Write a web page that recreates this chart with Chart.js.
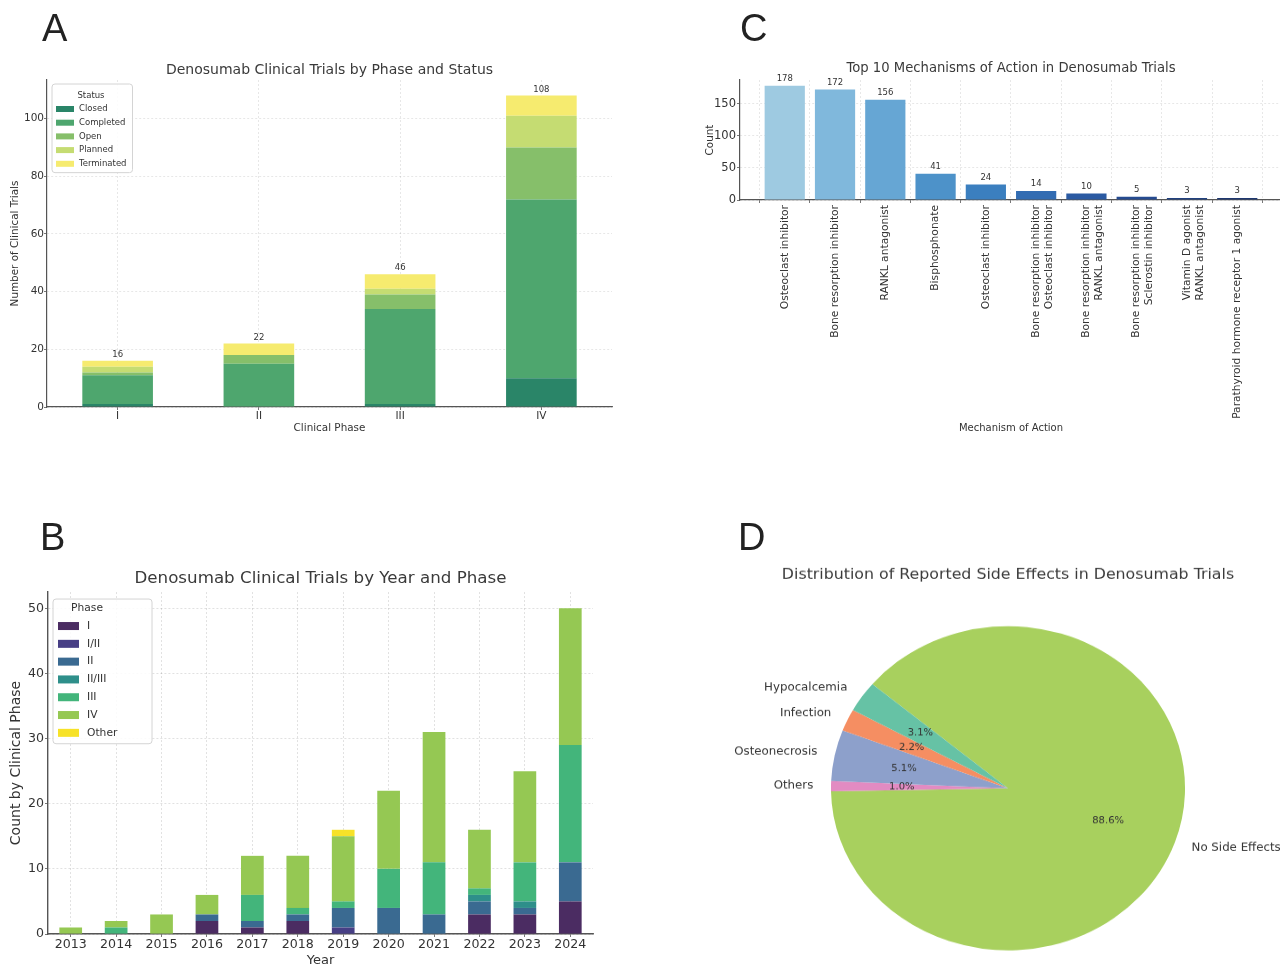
<!DOCTYPE html>
<html lang="en">
<head>
<meta charset="UTF-8">
<title>Denosumab clinical trials</title>
<script src="https://cdn.jsdelivr.net/npm/chart.js"></script>
<style>
  html, body { margin: 0; padding: 0; background: #fff; width: 1280px; height: 968px; overflow: hidden; }
  canvas { position: absolute; }
  .letter {
    position: absolute; z-index: 2;
    font-family: 'Liberation Sans', Arial, sans-serif;
    font-size: 38px; line-height: 38px; color: #222;
  }
</style>
</head>
<body>

<canvas id="chartA" width="640" height="450" style="left:0;top:0"></canvas>
<canvas id="chartC" width="660" height="450" style="left:640px;top:0"></canvas>
<canvas id="chartB" width="640" height="478" style="left:0;top:490px"></canvas>
<canvas id="chartD" width="660" height="522" style="left:640px;top:490px;width:660px;height:478px"></canvas>

<div class="letter" style="left:42px;top:9px">A</div>
<div class="letter" style="left:40px;top:518px">B</div>
<div class="letter" style="left:740px;top:9px">C</div>
<div class="letter" style="left:738px;top:518px">D</div>

<script>
// A: trials by phase and status
const phases = ['I', 'II', 'III', 'IV'];
const statusNames = ['Closed', 'Completed', 'Open', 'Planned', 'Terminated'];
const closedCounts = [1, 0, 1, 10];
const completedCounts = [10, 15, 33, 62];
const openCounts = [1, 3, 5, 18];
const plannedCounts = [2, 0, 2, 11];
const terminatedCounts = [2, 4, 5, 7];

// B: trials by year and phase
const years = ['2013', '2014', '2015', '2016', '2017', '2018', '2019', '2020', '2021', '2022', '2023', '2024'];
const phaseNames = ['I', 'I/II', 'II', 'II/III', 'III', 'IV', 'Other'];
const phaseI      = [0, 0, 0, 2, 1, 2, 0, 0, 0, 3, 3, 5];
const phaseI_II   = [0, 0, 0, 0, 0, 0, 1, 0, 0, 0, 0, 0];
const phaseII     = [0, 0, 0, 1, 1, 1, 3, 4, 3, 2, 1, 6];
const phaseII_III = [0, 0, 0, 0, 0, 0, 0, 0, 0, 1, 1, 0];
const phaseIII    = [0, 1, 0, 0, 4, 1, 1, 6, 8, 1, 6, 18];
const phaseIV     = [1, 1, 3, 3, 6, 8, 10, 12, 20, 9, 14, 21];
const phaseOther  = [0, 0, 0, 0, 0, 0, 1, 0, 0, 0, 0, 0];

// C: top 10 mechanisms of action
const mechanisms = [
  'Osteoclast inhibitor',
  'Bone resorption inhibitor',
  'RANKL antagonist',
  'Bisphosphonate',
  'Osteoclast inhibitor',
  ['Bone resorption inhibitor', 'Osteoclast inhibitor'],
  ['Bone resorption inhibitor', 'RANKL antagonist'],
  ['Bone resorption inhibitor', 'Sclerostin inhibitor'],
  ['Vitamin D agonist', 'RANKL antagonist'],
  'Parathyroid hormone receptor 1 agonist'
];
const mechanismCounts = [178, 172, 156, 41, 24, 14, 10, 5, 3, 3];

// D: reported side effects (%)
const sideEffects = ['Hypocalcemia', 'Infection', 'Osteonecrosis', 'Others', 'No Side Effects'];
const sideEffectShares = [3.1, 2.2, 5.1, 1.0, 88.6];

Chart.defaults.font.family = "'DejaVu Sans', sans-serif";
Chart.defaults.color = '#333';
Chart.defaults.animation = false;

// total above each (stacked) bar
const barTotals = {
  id: 'barTotals',
  afterDatasetsDraw(chart, args, o) {
    const ctx = chart.ctx;
    const n = chart.data.datasets[0].data.length;
    ctx.save();
    ctx.font = o.size + "px 'DejaVu Sans'";
    ctx.fillStyle = '#333';
    ctx.textAlign = 'center';
    ctx.textBaseline = 'bottom';
    for (let i = 0; i < n; i++) {
      let top = Infinity, x = 0, total = 0;
      chart.data.datasets.forEach((ds, d) => {
        const v = ds.data[i];
        total += typeof v === 'object' ? v.y : v;
        const el = chart.getDatasetMeta(d).data[i];
        if (el.y < top) { top = el.y; x = el.x; }
      });
      ctx.fillText(String(total), x, top - o.gap);
    }
    ctx.restore();
  }
};

// matplotlib-like legend box inside the plot
const boxLegend = {
  id: 'boxLegend',
  afterDatasetsDraw(chart, args, o) {
    const ctx = chart.ctx, area = chart.chartArea;
    const sets = chart.data.datasets;
    ctx.save();
    ctx.font = o.size + "px 'DejaVu Sans'";
    let textW = 0;
    sets.forEach(ds => { textW = Math.max(textW, ctx.measureText(ds.label).width); });
    const w = Math.max(o.textX + textW + 6, ctx.measureText(o.title).width + 2 * o.boxX, o.minW || 0);
    const h = o.rowDy + (sets.length - 1) * o.rowH + o.rowH / 2 + 2;
    const x0 = area.left + o.ox, y0 = area.top + o.oy;
    ctx.beginPath();
    ctx.roundRect(x0, y0, w, h, 3);
    ctx.fillStyle = 'rgba(255,255,255,0.85)';
    ctx.fill();
    ctx.strokeStyle = '#d4d4d4';
    ctx.lineWidth = 1;
    ctx.stroke();
    ctx.fillStyle = '#333';
    ctx.textBaseline = 'middle';
    ctx.textAlign = 'center';
    ctx.fillText(o.title, x0 + (o.titleX || w / 2), y0 + o.titleDy);
    ctx.textAlign = 'left';
    sets.forEach((ds, i) => {
      const y = y0 + o.rowDy + i * o.rowH;
      ctx.fillStyle = ds.backgroundColor;
      ctx.fillRect(x0 + o.boxX, y - o.boxH / 2, o.boxW, o.boxH);
      ctx.fillStyle = '#333';
      ctx.fillText(ds.label, x0 + o.textX, y);
    });
    ctx.restore();
  }
};

// slice names outside, percentages inside
const pieLabels = {
  id: 'pieLabels',
  afterDatasetsDraw(chart, args, o) {
    const ctx = chart.ctx;
    const ds = chart.data.datasets[0];
    const total = ds.data.reduce((a, b) => a + b, 0);
    ctx.save();
    ctx.fillStyle = '#333';
    ctx.textBaseline = 'middle';
    chart.getDatasetMeta(0).data.forEach((arc, i) => {
      const p = arc.getProps(['x', 'y', 'startAngle', 'endAngle', 'outerRadius'], true);
      const mid = (p.startAngle + p.endAngle) / 2;
      const c = Math.cos(mid), s = Math.sin(mid);
      ctx.font = o.labelSize + "px 'DejaVu Sans'";
      ctx.textAlign = c < 0 ? 'right' : 'left';
      ctx.fillText(chart.data.labels[i], p.x + 1.1 * p.outerRadius * c, p.y + 1.1 * p.outerRadius * s);
      ctx.font = o.pctSize + "px 'DejaVu Sans'";
      ctx.textAlign = 'center';
      ctx.fillText((ds.data[i] / total * 100).toFixed(1) + '%', p.x + 0.6 * p.outerRadius * c, p.y + 0.6 * p.outerRadius * s);
    });
    ctx.restore();
  }
};

function fixWidth(w) { return s => { s.width = w; }; }
function fixHeight(h) { return s => { s.height = h; }; }

// ---------- A ----------
const statusColors = ['#2a8568', '#4ea66e', '#86bf6a', '#c5dc72', '#f6eb6f'];
const statusData = [closedCounts, completedCounts, openCounts, plannedCounts, terminatedCounts];

new Chart(document.getElementById('chartA'), {
  type: 'bar',
  data: {
    labels: phases,
    datasets: statusNames.map((name, k) => ({
      label: name, data: statusData[k], backgroundColor: statusColors[k],
      borderWidth: 0, barPercentage: 0.5, categoryPercentage: 1
    }))
  },
  options: {
    responsive: false,
    layout: { padding: { left: 0, right: 28, top: 0, bottom: 0 } },
    plugins: {
      legend: { display: false },
      tooltip: { enabled: false },
      title: {
        display: true, text: 'Denosumab Clinical Trials by Phase and Status', fullSize: false,
        font: { size: 14, weight: 'normal' }, color: '#3a3a3a', padding: { top: 61.6, bottom: 1.6 }
      },
      barTotals: { size: 8.5, gap: 2 },
      boxLegend: { title: 'Status', size: 8.5, ox: 5, oy: 4, titleDy: 12, rowDy: 25, rowH: 13.7,
                   boxX: 4, boxW: 18, boxH: 6, textX: 27, minW: 78, titleX: 39 }
    },
    scales: {
      x: {
        stacked: true,
        afterFit: fixHeight(43),
        grid: { offset: false, color: 'rgba(0,0,0,0.12)', lineWidth: 0.8, tickLength: 3, tickColor: '#555' },
        border: { color: '#555', width: 1.2, dash: [2, 2] },
        ticks: { font: { size: 10.5 }, padding: 0, maxRotation: 0 },
        title: { display: true, text: 'Clinical Phase', font: { size: 10.4 }, padding: { top: 0, bottom: 15.8 } }
      },
      y: {
        stacked: true, min: 0, max: 113.4,
        afterFit: fixWidth(47),
        grid: { color: 'rgba(0,0,0,0.12)', lineWidth: 0.8, tickLength: 3, tickColor: '#555' },
        border: { color: '#555', width: 1.2, dash: [2, 2] },
        ticks: { stepSize: 20, includeBounds: false, font: { size: 10.5 }, padding: 0 },
        title: { display: true, text: 'Number of Clinical Trials', font: { size: 10.4 }, padding: { top: 8.8, bottom: 0 } }
      }
    }
  },
  plugins: [barTotals, boxLegend]
});

// ---------- B ----------
const phaseColors = ['#4b2c62', '#473f85', '#3a6a91', '#2e8f8a', '#43b57b', '#95c853', '#f7e228'];
const phaseData = [phaseI, phaseI_II, phaseII, phaseII_III, phaseIII, phaseIV, phaseOther];

new Chart(document.getElementById('chartB'), {
  type: 'bar',
  data: {
    labels: years,
    datasets: phaseNames.map((name, k) => ({
      label: name, data: phaseData[k], backgroundColor: phaseColors[k],
      borderWidth: 0, barPercentage: 0.5, categoryPercentage: 1
    }))
  },
  options: {
    responsive: false,
    layout: { padding: { left: 0, right: 47, top: 0, bottom: 0 } },
    plugins: {
      legend: { display: false },
      tooltip: { enabled: false },
      title: {
        display: true, text: 'Denosumab Clinical Trials by Year and Phase', fullSize: false,
        font: { size: 16.7, weight: 'normal' }, color: '#3a3a3a', padding: { top: 79, bottom: 3 }
      },
      boxLegend: { title: 'Phase', size: 10.7, ox: 5, oy: 7, titleDy: 9, rowDy: 27, rowH: 17.8,
                   boxX: 5, boxW: 21, boxH: 8, textX: 34, minW: 99, titleX: 34 }
    },
    scales: {
      x: {
        stacked: true,
        afterFit: fixHeight(34),
        grid: { offset: false, color: 'rgba(0,0,0,0.15)', lineWidth: 0.8, tickLength: 3, tickColor: '#555' },
        border: { color: '#555', width: 1.4, dash: [2, 2] },
        ticks: { font: { size: 12.6 }, padding: 0, maxRotation: 0, autoSkip: false },
        title: { display: true, text: 'Year', font: { size: 13 }, padding: { top: 0, bottom: 0 } }
      },
      y: {
        stacked: true, min: 0, max: 52.5,
        afterFit: fixWidth(48),
        grid: { color: 'rgba(0,0,0,0.15)', lineWidth: 0.8, tickLength: 3, tickColor: '#555' },
        border: { color: '#555', width: 1.4, dash: [2, 2] },
        ticks: { stepSize: 10, includeBounds: false, font: { size: 12.6 }, padding: 1 },
        title: { display: true, text: 'Count by Clinical Phase', font: { size: 14 }, padding: { top: 7.6, bottom: 0 } }
      }
    }
  },
  plugins: [boxLegend]
});

// ---------- C ----------
const mechColors = ['#9ecae1', '#80b8dc', '#66a6d4', '#4d92c9', '#3b7fbf', '#326cb2', '#2b5aa2', '#264b90', '#21417f', '#1e3870'];

new Chart(document.getElementById('chartC'), {
  type: 'bar',
  data: {
    datasets: [{
      label: 'Count',
      data: mechanismCounts.map((v, i) => ({ x: i, y: v })),
      backgroundColor: mechColors, borderWidth: 0,
      barPercentage: 0.8, categoryPercentage: 1
    }]
  },
  options: {
    responsive: false,
    layout: { padding: { left: 0, right: 18, top: 0, bottom: 0 } },
    plugins: {
      legend: { display: false },
      tooltip: { enabled: false },
      title: {
        display: true, text: 'Top 10 Mechanisms of Action in Denosumab Trials', fullSize: false,
        font: { size: 13.2, weight: 'normal' }, color: '#3a3a3a', padding: { top: 61, bottom: 3.2 }
      },
      barTotals: { size: 8.5, gap: 3 }
    },
    scales: {
      x: {
        type: 'linear', min: -0.89, max: 9.89, offset: false,
        afterFit: fixHeight(250),
        grid: { color: 'rgba(0,0,0,0.12)', lineWidth: 0.8, tickLength: 3, tickColor: '#555' },
        border: { color: '#555', width: 1.2, dash: [2, 2] },
        ticks: {
          stepSize: 1, includeBounds: false, autoSkip: false,
          minRotation: 90, maxRotation: 90, padding: 2, font: { size: 10.7 },
          callback: v => mechanisms[v]
        },
        title: { display: true, text: 'Mechanism of Action', font: { size: 10 }, padding: { top: 0, bottom: 16 } }
      },
      y: {
        min: 0, max: 186.9,
        afterFit: fixWidth(100),
        grid: { color: 'rgba(0,0,0,0.12)', lineWidth: 0.8, tickLength: 3, tickColor: '#555' },
        border: { color: '#555', width: 1.2, dash: [2, 2] },
        ticks: { stepSize: 50, includeBounds: false, font: { size: 11.5 }, padding: 1 },
        title: { display: true, text: 'Count', font: { size: 10.4 }, padding: { top: 63.8, bottom: 0 } }
      }
    }
  },
  plugins: [barTotals]
});

// ---------- D ----------
const sideColors = ['#66c2a5', '#f58e62', '#8da0cb', '#e28bc2', '#a8d05e'];

new Chart(document.getElementById('chartD'), {
  type: 'pie',
  data: {
    // drawn clockwise, so reverse matplotlib's counter-clockwise order
    labels: sideEffects.slice().reverse(),
    datasets: [{
      data: sideEffectShares.slice().reverse(),
      backgroundColor: sideColors.slice().reverse(),
      borderWidth: 0
    }]
  },
  options: {
    responsive: false,
    rotation: -50,
    layout: { padding: { left: 76, right: 0, top: 0, bottom: 19.3 } },
    plugins: {
      legend: { display: false },
      tooltip: { enabled: false },
      title: {
        display: true, text: 'Distribution of Reported Side Effects in Denosumab Trials',
        font: { size: 15.8, weight: 'normal' }, color: '#3a3a3a', padding: { top: 83.4, bottom: 46.3 }
      },
      pieLabels: { labelSize: 11.8, pctSize: 10 }
    }
  },
  plugins: [pieLabels]
});
</script>
</body>
</html>
